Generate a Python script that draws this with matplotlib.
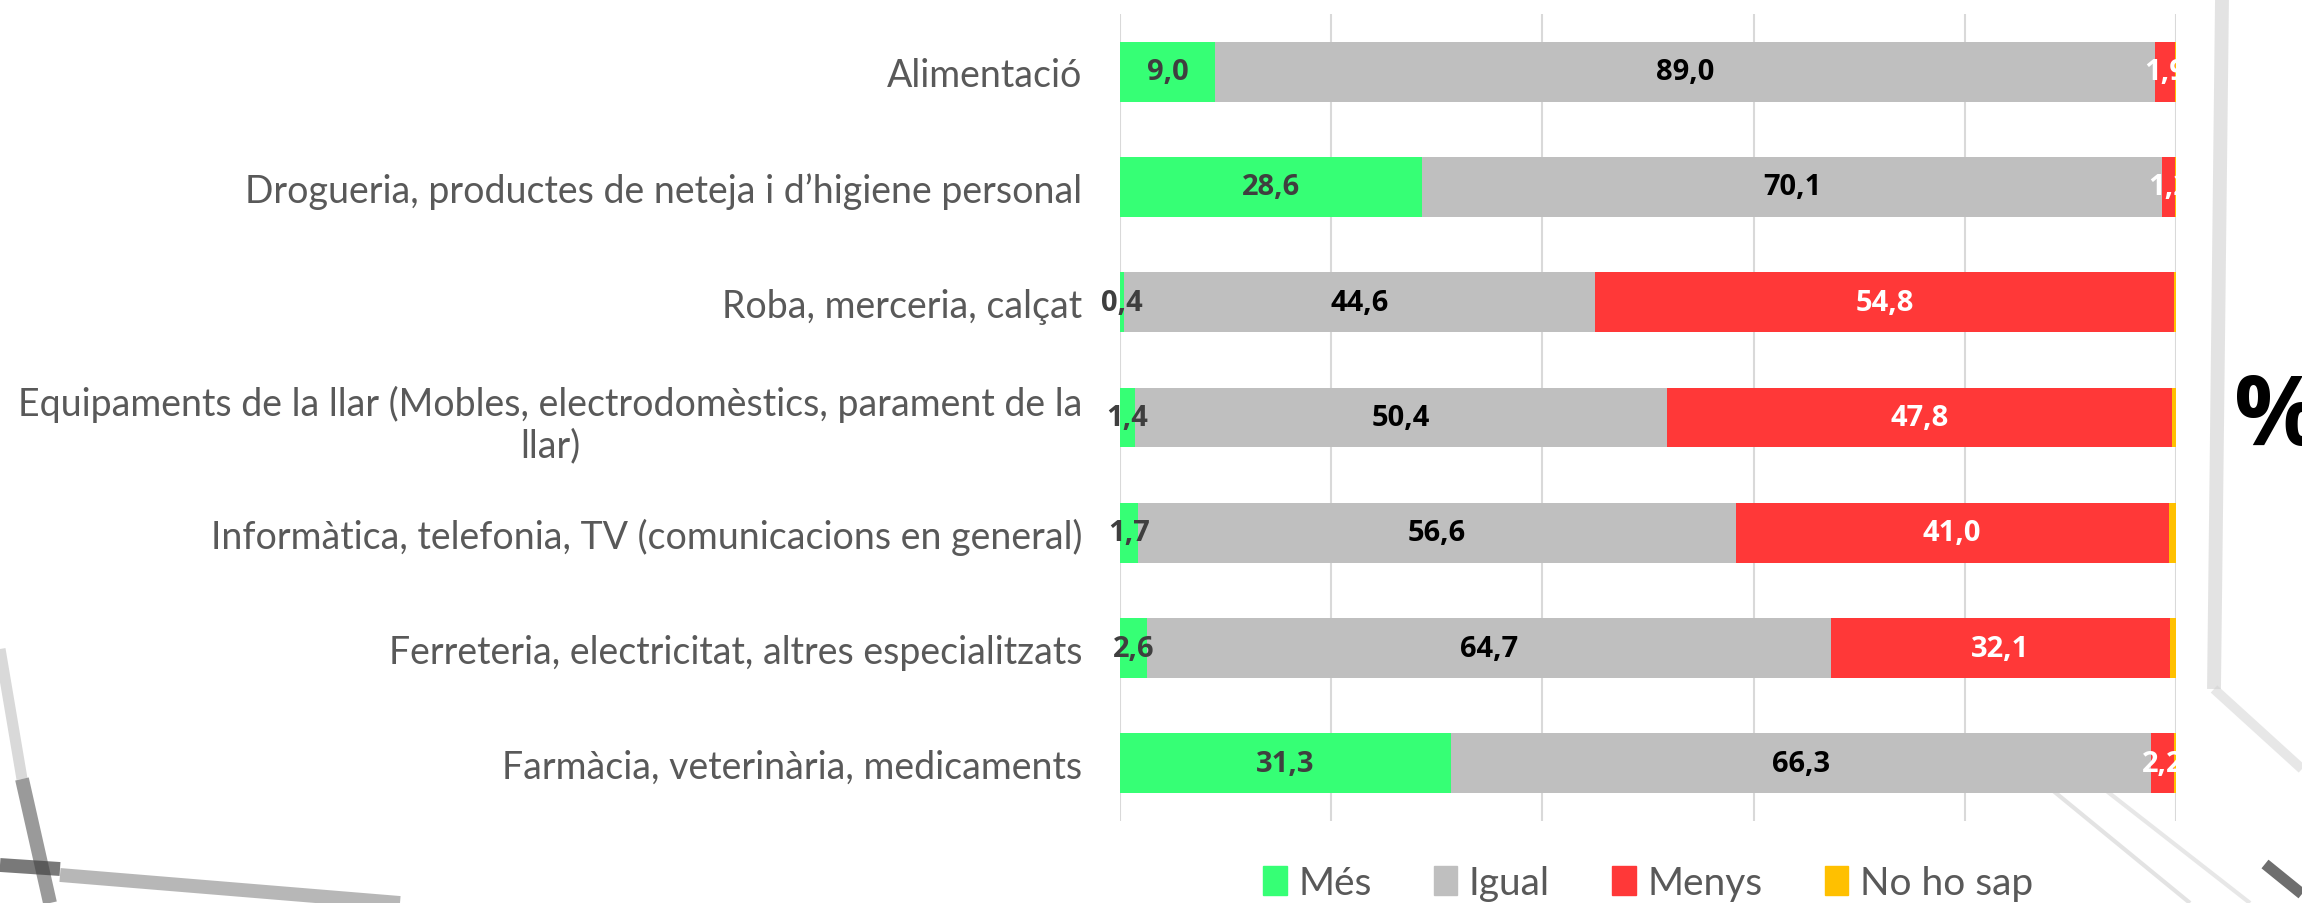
import matplotlib
matplotlib.use("Agg")
import matplotlib.pyplot as plt
from matplotlib.lines import Line2D
from matplotlib.patches import Patch

categories = [
    "Alimentació",
    "Drogueria, productes de neteja i d’higiene personal",
    "Roba, merceria, calçat",
    "Equipaments de la llar (Mobles, electrodomèstics, parament de la\nllar)",
    "Informàtica, telefonia, TV (comunicacions en general)",
    "Ferreteria, electricitat, altres especialitzats",
    "Farmàcia, veterinària, medicaments",
]
mes = [9.0, 28.6, 0.4, 1.4, 1.7, 2.6, 31.3]
igual = [89.0, 70.1, 44.6, 50.4, 56.6, 64.7, 66.3]
menys = [1.9, 1.2, 54.8, 47.8, 41.0, 32.1, 2.2]
no_ho_sap = [0.1, 0.1, 0.2, 0.4, 0.7, 0.6, 0.2]
series_names = ["Més", "Igual", "Menys", "No ho sap"]

colors = ["#36FF75", "#BFBFBF", "#FF3838", "#FFC000"]
label_colors = ["#3F3F3F", "black", "white", None]

plt.rcParams["font.family"] = ["Lato", "DejaVu Sans"]

W, H = 2302, 904
fig = plt.figure(figsize=(W / 100, H / 100), dpi=100)

# faint window-frame decoration behind the chart (pixel coords, y from top)
deco = [
    ((0, 650), (22, 780), "#C0C0C0", 8, 0.6),
    ((22, 780), (50, 904), "#707070", 10, 0.7),
    ((0, 866), (60, 870), "#404040", 10, 0.7),
    ((60, 876), (400, 904), "#707070", 10, 0.5),
    ((2222, 0), (2214, 690), "#C8C8C8", 10, 0.5),
    ((2214, 690), (2302, 770), "#D0D0D0", 7, 0.5),
    ((1990, 740), (2190, 904), "#C8C8C8", 3, 0.5),
    ((2040, 740), (2250, 904), "#D0D0D0", 3, 0.5),
    ((2265, 865), (2302, 895), "#303030", 8, 0.7),
]
for (x0, y0), (x1, y1), c, lw, a in deco:
    fig.add_artist(Line2D([x0 / W, x1 / W], [1 - y0 / H, 1 - y1 / H], color=c, lw=lw,
                          alpha=a, solid_capstyle="butt", zorder=0))

ax = fig.add_axes([1120 / W, 82 / H, 1056 / W, 807 / H])
ax.patch.set_alpha(0)

y = list(range(len(categories)))
left = [0.0] * len(categories)
for name, vals, col, lcol in zip(series_names, [mes, igual, menys, no_ho_sap], colors, label_colors):
    ax.barh(y, vals, left=left, height=0.52, color=col, label=name, zorder=3)
    if lcol is not None:
        for i, v in enumerate(vals):
            cx = left[i] + v / 2
            # labels near the right edge get cut by the plot area
            clip = cx + 1.5 > 100
            ax.text(cx, i, f"{v:.1f}".replace(".", ","), ha="center", va="center",
                    color=lcol, fontsize=21, fontweight="bold", family="Open Sans",
                    zorder=4, clip_on=clip)
    left = [a + b for a, b in zip(left, vals)]

ax.set_xlim(0, 100)
ax.set_ylim(len(categories) - 0.5, -0.5)
ax.set_xticks([0, 20, 40, 60, 80, 100])
ax.set_xticklabels([])
ax.tick_params(axis="x", length=0)
ax.grid(axis="x", color="#D9D9D9", lw=1.5, zorder=0)
for s in ax.spines.values():
    s.set_visible(False)

ax.set_yticks(y)
ax.set_yticklabels(categories, fontsize=27, color="#595959", multialignment="center")
ax.tick_params(axis="y", length=0, pad=27)

handles = [Patch(color=c, label=n) for c, n in zip(colors, series_names)]
fig.legend(handles=handles, loc="center", bbox_to_anchor=(1648 / W, 20 / H), ncol=4,
           frameon=False, fontsize=28, labelcolor="#595959", handlelength=0.6,
           handleheight=0.8, handletextpad=0.3, columnspacing=1.6)

fig.text(2234 / W, 1 - 420 / H, "%", fontsize=70, fontweight="bold", color="black",
         family="Open Sans", ha="left", va="center")

fig.savefig("out.png", dpi=100)
